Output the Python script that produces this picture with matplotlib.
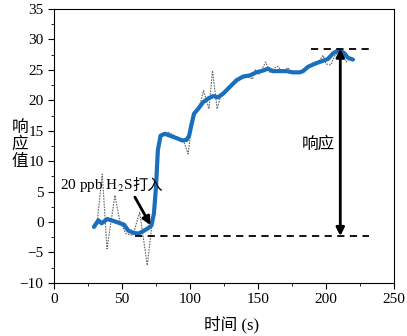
import matplotlib
matplotlib.use("Agg")
import matplotlib.pyplot as plt
from matplotlib.ticker import MultipleLocator

plt.rcParams["font.family"] = ["Liberation Serif", "Noto Sans CJK SC"]
plt.rcParams["mathtext.fontset"] = "stix"

# --- smoothed response (blue) ---
smooth_t = [29.4, 32.6, 35, 39.2, 43.6, 48.5, 51.4, 54.6, 58.3, 62, 65.6, 69.3, 71.7,
            73.5, 75, 76.4, 78.4, 81.5, 85.2, 90.1, 94.5, 97.5, 99.4, 101, 103, 106,
            109.7, 113.4, 117, 120.7, 124.4, 129.3, 134.2, 139, 144, 148.9, 153.8,
            157.4, 161, 166, 171, 175.8, 180.7, 183.2, 186.8, 191.7, 196.6, 201.5,
            205.2, 208.9, 211.3, 213.8, 216.2, 219.9]
smooth_r = [-0.8, 0.3, -0.2, 0.5, 0.2, -0.2, -0.4, -1.4, -1.75, -1.9, -1.5, -1.0, -0.55,
            1.4, 5.7, 11.8, 14.2, 14.5, 14.2, 13.8, 13.4, 13.5, 14.2, 15.9, 17.8, 18.6,
            19.7, 20.3, 20.7, 20.5, 21.1, 22.2, 23.3, 23.9, 24.1, 24.6, 24.9,
            25.2, 24.8, 24.8, 24.8, 24.6, 24.6, 24.8, 25.5, 26.0, 26.4, 26.8,
            27.7, 28.2, 28.1, 27.7, 27.0, 26.7]

# --- raw response (grey dotted) ---
raw_t = [30, 32, 35.5, 39, 44.8, 48.5, 53, 58, 63, 68.6, 72, 75, 77, 79, 84, 90, 95,
         98.7, 101, 104, 107, 110, 114, 116.6, 120, 123, 127, 132, 137, 142, 146, 148,
         151, 155.7, 159, 162, 164.8, 168, 172, 175, 180, 185, 190, 195, 198, 200,
         203.5, 207, 211, 215, 218, 220]
raw_r = [-0.8, 0.5, 7.9, -4.4, 4.4, 0, -1.9, -2.2, 1.6, -7.1, -0.5, 6, 12, 14.5, 14.8,
         14, 13.5, 11.2, 15.5, 18, 19, 21.6, 18.6, 24.9, 18.6, 21, 21.5, 22.5, 23.5, 24,
         23.5, 25, 24.3, 26.3, 24.5, 25.3, 25.6, 24.6, 25.4, 24.5, 24.6, 25, 25.8, 26.5,
         27.4, 26, 25.8, 27.5, 28, 26.3, 27, 26.7]

baseline = -2.3
peak = 28.5
arrow_t = 210.6

fig = plt.figure(figsize=(4.07, 3.36), dpi=100)
ax = fig.add_axes([0.1327, 0.158, 0.835, 0.815])

ax.plot(raw_t, raw_r, color="#666666", lw=0.8, ls=(0, (1.5, 1)))
ax.plot(smooth_t, smooth_r, color="#1a6fbd", lw=3, solid_capstyle="round")

ax.plot([59.5, 232], [baseline, baseline], color="black", lw=1.3, ls=(0, (4, 3)))
ax.plot([189, 232], [peak, peak], color="black", lw=1.3, ls=(0, (4, 3)))
ax.annotate("", xy=(arrow_t, baseline), xytext=(arrow_t, peak),
            arrowprops=dict(arrowstyle="<|-|>", color="black", lw=2, mutation_scale=12,
                            shrinkA=0, shrinkB=0))
ax.text(182, 12.6, "响应", fontsize=12, va="center", ha="left")

ax.annotate("", xy=(71, -0.5), xytext=(59.5, 4.1),
            arrowprops=dict(arrowstyle="-|>", color="black", lw=2, mutation_scale=12,
                            shrinkA=0, shrinkB=0))
t1 = ax.text(4.4, 6.0, "20 ppb H$_2$S", fontsize=11, va="center", ha="left")

ax.set_xlim(0, 250)
ax.set_ylim(-10, 35)
ax.xaxis.set_major_locator(MultipleLocator(50))
ax.xaxis.set_minor_locator(MultipleLocator(25))
ax.yaxis.set_major_locator(MultipleLocator(5))
ax.yaxis.set_minor_locator(MultipleLocator(2.5))
ax.tick_params(which="both", direction="out", top=False, right=False, labelsize=11)
ax.tick_params(which="major", length=4)
ax.tick_params(which="minor", length=2.5)
ax.set_yticklabels([f"{int(v)}".replace("-", "\u2212") for v in ax.get_yticks()])

# place the CJK part right after the mathtext part
fig.canvas.draw()
bb = t1.get_window_extent()
x_end = ax.transData.inverted().transform((bb.x1, 0))[0]
ax.text(x_end, 6.0, "打入", fontsize=11, va="center", ha="left")

fig.text(20 / 407, 1 - 145 / 336, "响\n应\n值", fontsize=12, ha="center", va="center",
         linespacing=1.05)
fig.text(232 / 407, 1 - 325 / 336, "时间 (s)", fontsize=12, ha="center", va="center")

fig.savefig("out.png", dpi=100)
